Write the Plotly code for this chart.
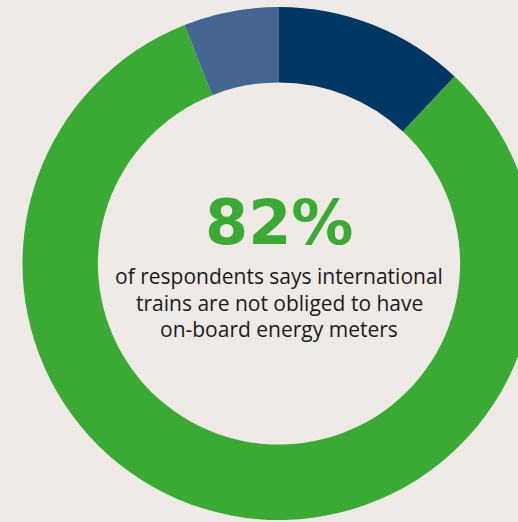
import plotly.graph_objects as go

# Survey answers (share of respondents, %)
answers = ["Obliged", "Not obliged", "Don't know"]
shares = [12, 82, 6]
slice_colors = ["#003764", "#3aaa35", "#436590"]

headline = "82%"
caption_lines = [
    "of respondents says international",
    "trains are not obliged to have",
    "on-board energy meters",
]

bg = "#f0eae7"
W, H = 558, 522
top, bottom = 7, 2
plot_h = H - top - bottom


def py(pixel_y):
    """Convert a page pixel row into paper coordinates."""
    return (H - bottom - pixel_y) / plot_h


fig = go.Figure(
    go.Pie(
        labels=answers,
        values=shares,
        marker=dict(colors=slice_colors, line=dict(width=0)),
        hole=0.706,
        sort=False,
        direction="clockwise",
        rotation=0,
        textinfo="none",
        hoverinfo="skip",
        domain=dict(x=[0, 1], y=[0, 1]),
    )
)

annotations = [
    dict(
        text=f"<b>{headline}</b>",
        x=0.5, y=py(222), xref="paper", yref="paper",
        xanchor="center", yanchor="middle", showarrow=False,
        font=dict(family="DejaVu Sans", size=62, color="#3aaa35"),
    )
]
for i, line in enumerate(caption_lines):
    annotations.append(
        dict(
            text=line,
            x=0.5, y=py(276 + 26.7 * i), xref="paper", yref="paper",
            xanchor="center", yanchor="middle", showarrow=False,
            font=dict(family="Open Sans", size=21, color="#1a1a1a"),
        )
    )

fig.update_layout(
    width=W,
    height=H,
    margin=dict(l=0, r=0, t=top, b=bottom, pad=0),
    paper_bgcolor=bg,
    plot_bgcolor=bg,
    showlegend=False,
    annotations=annotations,
)

fig.write_html(
    "out.html",
    config={"displayModeBar": False},
    post_script=(
        "document.documentElement.style.overflow='hidden';"
        "document.body.style.overflow='hidden';"
        "document.body.style.margin='0';"
        "document.body.style.background='" + bg + "';"
    ),
)
